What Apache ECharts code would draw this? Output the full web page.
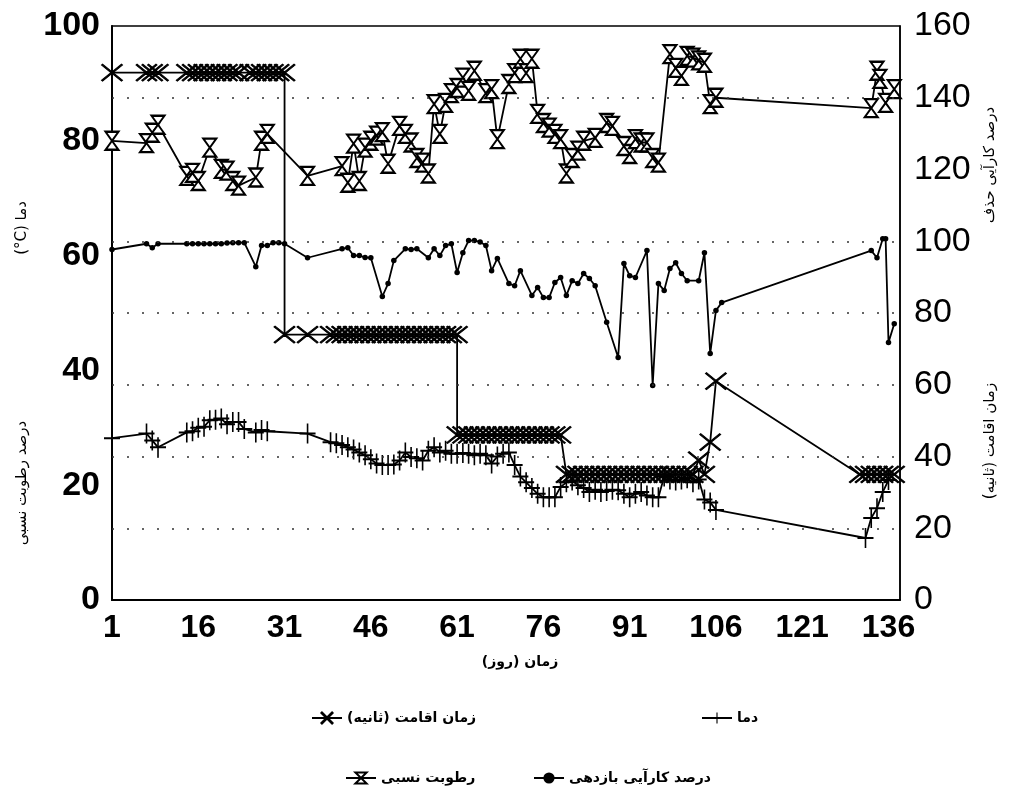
<!DOCTYPE html>
<html>
<head>
<meta charset="utf-8">
<script src="https://cdn.jsdelivr.net/npm/echarts@6/dist/echarts.min.js"></script>
<style>
  html, body { margin: 0; padding: 0; background: #fff; }
  #chart { width: 1013px; height: 791px; }
</style>
</head>
<body>
<div id="chart"></div>
<script>
// x ticks (days)
const dayTicks = [1, 16, 31, 46, 61, 76, 91, 106, 121, 136]
// dotted guide lines, right axis units
const guideLines = [20, 40, 60, 80, 100, 140]

// residence time (s) - right axis
const resDays = [1, 7, 8, 9, 14, 15, 16, 17, 18, 19, 20, 21, 22, 23, 25, 26, 27, 28, 29, 30, 31,
  31, 35, 39, 40, 41, 42, 43, 44, 45, 46, 47, 48, 49, 50, 51, 52, 53, 54, 55, 56, 57, 58, 59, 60, 61,
  61, 62, 63, 64, 65, 66, 67, 68, 69, 70, 71, 72, 73, 74, 75, 76, 77, 78, 79,
  80, 81, 82, 83, 84, 85, 86, 87, 88, 89, 90, 91, 92, 93, 94, 95, 96, 97, 98, 99, 100, 101, 102,
  103, 104, 105, 106, 131, 132, 133, 134, 135, 136, 137]
const resVals = [147, 147, 147, 147, 147, 147, 147, 147, 147, 147, 147, 147, 147, 147, 147, 147, 147, 147, 147, 147, 147,
  74, 74, 74, 74, 74, 74, 74, 74, 74, 74, 74, 74, 74, 74, 74, 74, 74, 74, 74, 74, 74, 74, 74, 74, 74,
  46, 46, 46, 46, 46, 46, 46, 46, 46, 46, 46, 46, 46, 46, 46, 46, 46, 46, 46,
  35, 35, 35, 35, 35, 35, 35, 35, 35, 35, 35, 35, 35, 35, 35, 35, 35, 35, 35, 35, 35, 35, 35,
  39, 35, 44, 61, 35, 35, 35, 35, 35, 35, 35]

// temperature (C) - left axis
const tempDays = [1, 7, 8, 9, 14, 15, 16, 17, 18, 19, 20, 21, 22, 23, 24, 26, 27, 28, 35,
  39, 40, 41, 42, 43, 44, 45, 46, 47, 48, 49, 50, 51, 52, 53, 54, 55, 56, 57, 58, 59, 60,
  61, 62, 63, 64, 65, 66, 67, 68, 69, 70, 71, 72, 73, 74, 75, 76, 77, 78, 79, 80,
  81, 82, 83, 84, 85, 86, 87, 88, 89, 90, 91, 92, 93, 94, 95, 96, 97, 98, 99, 100,
  101, 102, 103, 104, 105, 106, 132, 133, 134, 135, 136]
const tempVals = [28.2, 29.0, 27.8, 26.6, 29.2, 29.4, 30.0, 30.2, 31.3, 31.4, 31.6, 30.6, 31.0, 31.0, 29.8, 29.2, 29.6, 29.4, 29.0,
  27.5, 27.3, 27.0, 26.6, 26.2, 25.7, 25.2, 24.5, 23.8, 23.5, 23.5, 23.6, 24.3, 25.7, 24.9, 24.7, 24.3, 26.0, 26.6, 25.7, 26.0, 25.5,
  25.5, 25.6, 25.5, 25.2, 25.5, 25.2, 23.8, 25.0, 25.5, 25.7, 23.5, 21.5, 20.5, 19.5, 18.5, 17.9, 17.9, 17.9, 19.7, 20.5,
  20.8, 20.0, 19.5, 18.8, 19.2, 18.8, 19.0, 19.2, 19.1, 18.5, 17.9, 18.5, 18.8, 18.2, 17.9, 17.9, 21.5, 21.0, 20.8, 21.0,
  21.2, 20.5, 21.0, 17.5, 17.0, 15.7, 10.8, 14.3, 16.0, 18.8, 20.9]

// removal efficiency (%) - right axis
const effDays = [1, 7, 8, 9, 14, 15, 16, 17, 18, 19, 20, 21, 22, 23, 24, 26, 27, 28, 29, 30, 31,
  35, 41, 42, 43, 44, 45, 46, 48, 49, 50, 52, 53, 54, 56, 57, 58, 59, 60,
  61, 62, 63, 64, 65, 66, 67, 68, 70, 71, 72, 74, 75, 76, 77, 78, 79, 80,
  81, 82, 83, 84, 85, 87, 89, 90, 91, 92, 94, 95, 96, 97, 98, 99, 100,
  101, 103, 104, 105, 106, 107, 133, 134, 135, 135.5, 136, 137]
const effVals = [97.7, 99.3, 98.2, 99.3, 99.3, 99.3, 99.3, 99.3, 99.3, 99.3, 99.3, 99.5, 99.6, 99.6, 99.6, 92.9, 98.8, 98.8, 99.6, 99.6, 99.3,
  95.4, 97.9, 98.2, 96.0, 96.0, 95.5, 95.4, 84.6, 88.2, 94.6, 97.9, 97.7, 97.9, 95.4, 97.9, 96.0, 98.8, 99.3,
  91.3, 96.8, 100.2, 100.2, 99.8, 98.8, 91.8, 95.2, 88.2, 87.6, 91.8, 84.9, 87.1, 84.3, 84.3, 88.5, 89.9, 84.9,
  89.0, 88.2, 91.0, 89.6, 87.6, 77.4, 67.6, 93.8, 90.4, 89.9, 97.4, 59.8, 88.2, 86.3, 92.4, 94.0, 91.0,
  89.0, 89.0, 96.8, 68.7, 80.7, 82.9, 97.4, 95.4, 100.7, 100.7, 71.8, 77.0]

// relative humidity (%) - left axis
const humDays = [1, 7, 8, 9, 14, 15, 16, 18, 20, 21, 22, 23, 26, 27, 28, 35,
  41, 42, 43, 44, 45, 46, 47, 48, 49, 51, 52, 53, 54, 55, 56, 57, 58, 59, 60,
  61, 62, 63, 64, 66, 67, 68, 70, 71, 72, 73, 74, 75, 76, 77, 78, 79, 80,
  81, 82, 83, 85, 87, 88, 90, 91, 92, 93, 94, 95, 96, 98, 99, 100,
  101, 102, 103, 104, 105, 106, 133, 134, 134.5, 135.5, 137]
const humVals = [80.0, 79.6, 81.4, 82.8, 73.9, 74.4, 73.0, 78.8, 75.1, 74.8, 73.0, 72.2, 73.6, 80.0, 81.2, 73.9,
  75.6, 72.7, 79.5, 73.0, 78.8, 80.0, 80.9, 81.5, 76.0, 82.6, 81.2, 79.7, 77.0, 76.2, 74.3, 86.4, 81.2, 86.6, 88.3,
  89.2, 91.0, 88.7, 92.2, 88.3, 89.0, 80.3, 89.9, 91.8, 94.3, 91.8, 94.3, 84.7, 83.1, 82.3, 81.2, 80.3, 74.3,
  77.0, 78.3, 80.0, 80.5, 83.1, 82.6, 79.1, 77.7, 80.3, 79.7, 79.7, 77.0, 76.2, 95.1, 92.7, 91.3,
  94.8, 94.5, 94.0, 93.6, 86.4, 87.5, 85.7, 92.2, 90.8, 86.6, 89.0]

const names = {
  res: '\u200Fزمان اقامت (ثانیه)\u200F',
  temp: '\u200Fدما\u200F',
  eff: '\u200Fدرصد کارآیی بازدهی\u200F',
  hum: '\u200Fرطوبت نسبی\u200F'
}

const pair = (xs, ys) => xs.map((x, i) => [x, ys[i]])

const hourglass = 'path://M0,0 L12,0 L6,9 L12,18 L0,18 L6,9 Z'
const cross = 'path://M0,1 L1,0 L10,9 L19,0 L20,1 L11,10 L20,19 L19,20 L10,11 L1,20 L0,19 L9,10 Z'
const plus = 'path://M9,0 H11 V9 H20 V11 H11 V20 H9 V11 H0 V9 H9 Z'

const numFont = 'Liberation Sans, Arial, sans-serif'
const faFont = 'DejaVu Sans, Noto Sans, sans-serif'

const chart = echarts.init(document.getElementById('chart'))

const legendBase = {
  orient: 'horizontal',
  itemWidth: 30,
  itemHeight: 14,
  textStyle: { fontFamily: faFont, fontWeight: 'bold', fontSize: 14, color: '#000' }
}

chart.setOption({
  animation: false,
  backgroundColor: '#fff',
  grid: {
    left: 112, right: 113, top: 26, bottom: 191,
    show: true, borderColor: '#000', borderWidth: 1.5
  },
  legend: [
    { ...legendBase, data: [names.res], left: 306, top: 706 },
    { ...legendBase, data: [names.temp], left: 696, top: 706 },
    { ...legendBase, data: [names.hum], left: 340, top: 766 },
    { ...legendBase, data: [names.eff], left: 528, top: 766 }
  ],
  xAxis: {
    type: 'value',
    min: 1,
    max: 138,
    axisLine: { show: true, lineStyle: { color: '#000', width: 2 } },
    axisTick: { show: false },
    splitLine: { show: false },
    axisLabel: {
      customValues: dayTicks,
      margin: 12,
      color: '#000',
      fontFamily: numFont,
      fontWeight: 'bold',
      fontSize: 32
    }
  },
  yAxis: [
    {
      type: 'value',
      min: 0, max: 100, interval: 20,
      axisLine: { show: true, lineStyle: { color: '#000', width: 2 } },
      axisTick: { show: false },
      splitLine: { show: false },
      axisLabel: { margin: 12, color: '#000', fontFamily: numFont, fontWeight: 'bold', fontSize: 34 }
    },
    {
      type: 'value',
      min: 0, max: 160, interval: 20,
      position: 'right',
      axisLine: { show: true, lineStyle: { color: '#000', width: 1.5 } },
      axisTick: { show: false },
      splitLine: { show: false },
      axisLabel: { margin: 14, color: '#000', fontFamily: numFont, fontSize: 34 }
    }
  ],
  graphic: [
    { type: 'text', x: 22, y: 228, rotation: Math.PI / 2,
      style: { text: '(°C) دما', fontFamily: faFont, fontSize: 15, fill: '#000', align: 'center', verticalAlign: 'middle' } },
    { type: 'text', x: 22, y: 483, rotation: Math.PI / 2,
      style: { text: '\u200Fدرصد رطوبت نسبی\u200F', fontFamily: faFont, fontSize: 15, fill: '#000', align: 'center', verticalAlign: 'middle' } },
    { type: 'text', x: 990, y: 165, rotation: Math.PI / 2,
      style: { text: '\u200Fدرصد کارآیی حذف\u200F', fontFamily: faFont, fontSize: 15, fill: '#000', align: 'center', verticalAlign: 'middle' } },
    { type: 'text', x: 990, y: 441, rotation: Math.PI / 2,
      style: { text: '\u200Fزمان اقامت (ثانیه)\u200F', fontFamily: faFont, fontSize: 15, fill: '#000', align: 'center', verticalAlign: 'middle' } },
    { type: 'text', x: 520, y: 662,
      style: { text: '\u200Fزمان (روز)\u200F', fontFamily: faFont, fontSize: 14, fontWeight: 'bold', fill: '#000', align: 'center', verticalAlign: 'middle' } }
  ],
  series: [
    {
      name: names.eff,
      type: 'line',
      yAxisIndex: 1,
      data: pair(effDays, effVals),
      symbol: 'circle',
      symbolSize: 5.5,
      itemStyle: { color: '#000' },
      lineStyle: { color: '#000', width: 1.8 },
      markLine: {
        silent: true,
        symbol: ['none', 'none'],
        label: { show: false },
        lineStyle: { color: '#333', width: 1.5, type: [2, 13] },
        data: guideLines.map(v => ({ yAxis: v }))
      }
    },
    {
      name: names.temp,
      type: 'line',
      yAxisIndex: 0,
      data: pair(tempDays, tempVals),
      symbol: plus,
      symbolSize: [16, 20],
      itemStyle: { color: '#000' },
      lineStyle: { color: '#000', width: 1.8 }
    },
    {
      name: names.res,
      type: 'line',
      yAxisIndex: 1,
      data: pair(resDays, resVals),
      symbol: cross,
      symbolSize: [21, 17],
      itemStyle: { color: '#000', borderColor: '#000', borderWidth: 1 },
      lineStyle: { color: '#000', width: 1.8 }
    },
    {
      name: names.hum,
      type: 'line',
      yAxisIndex: 0,
      data: pair(humDays, humVals),
      symbol: hourglass,
      symbolSize: [13, 18],
      itemStyle: { color: '#fff', borderColor: '#000', borderWidth: 2 },
      lineStyle: { color: '#000', width: 1.8 }
    }
  ]
})
</script>
</body>
</html>
